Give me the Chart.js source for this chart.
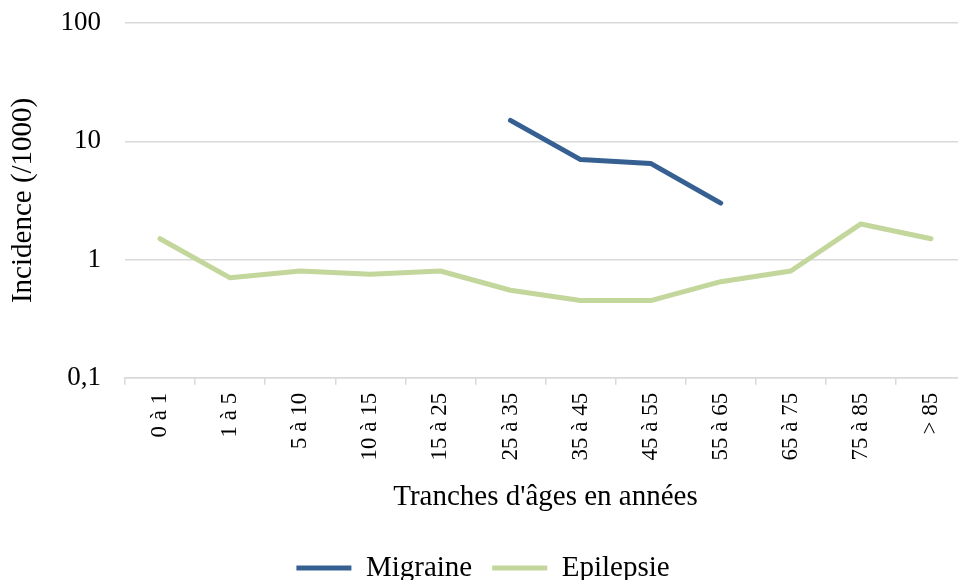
<!DOCTYPE html>
<html>
<head>
<meta charset="utf-8">
<script src="https://cdn.jsdelivr.net/npm/chart.js@4"></script>
<style>
  html, body { margin: 0; padding: 0; background: #ffffff; overflow: hidden; }
  #wrap { width: 966px; height: 580px; position: relative; }
</style>
</head>
<body>
<div id="wrap"><canvas id="c" width="966" height="580"></canvas></div>
<script>
const categories = ["0 à 1", "1 à 5", "5 à 10", "10 à 15", "15 à 25", "25 à 35", "35 à 45", "45 à 55", "55 à 65", "65 à 75", "75 à 85", "> 85"];
const migraine = [null, null, null, null, null, 15, 7, 6.5, 3, null, null, null];
const epilepsie = [1.5, 0.7, 0.8, 0.75, 0.8, 0.55, 0.45, 0.45, 0.65, 0.8, 2, 1.5];
const yTicks = [0.1, 1, 10, 100];
const yTickLabels = ["0,1", "1", "10", "100"];

const serif = "'Liberation Serif', 'Times New Roman', serif";

new Chart(document.getElementById('c'), {
  type: 'line',
  data: {
    labels: categories,
    datasets: [
      { label: 'Migraine', data: migraine, borderColor: '#376092', backgroundColor: '#376092',
        borderWidth: 5, pointRadius: 0, borderCapStyle: 'round', borderJoinStyle: 'round', spanGaps: false, tension: 0 },
      { label: 'Epilepsie', data: epilepsie, borderColor: '#C3D69B', backgroundColor: '#C3D69B',
        borderWidth: 5, pointRadius: 0, borderCapStyle: 'round', borderJoinStyle: 'round', tension: 0 }
    ]
  },
  options: {
    responsive: false,
    animation: false,
    layout: { padding: { top: 23, left: 0, right: 0, bottom: -12.4 } },
    plugins: {
      tooltip: { enabled: false },
      legend: {
        position: 'bottom',
        labels: {
          font: { family: serif, size: 29 },
          color: '#000000',
          boxWidth: 55,
          boxHeight: 5,
          padding: 20,
          generateLabels(chart) {
            return chart.data.datasets.map((ds, i) => ({
              text: ds.label, fillStyle: ds.borderColor, strokeStyle: ds.borderColor,
              lineWidth: 0, hidden: false, datasetIndex: i, fontColor: '#000000'
            }));
          }
        }
      }
    },
    scales: {
      x: {
        offset: true,
        afterFit(scale) { scale.height = 155.6; scale.paddingLeft = 0; scale.paddingRight = 0; },
        grid: { offset: true, drawOnChartArea: false, drawTicks: true, tickLength: 7, color: '#D9D9D9', lineWidth: 1.5 },
        border: { display: true, color: '#D9D9D9', width: 1.5 },
        ticks: { font: { family: serif, size: 23 }, color: '#000000', minRotation: 90, maxRotation: 90, padding: 8, autoSkip: false },
        title: { display: true, text: "Tranches d'âges en années", font: { family: serif, size: 29 }, color: '#000000', padding: { top: 6, bottom: 18.2 } }
      },
      y: {
        type: 'logarithmic',
        min: 0.1,
        max: 100,
        afterBuildTicks(scale) { scale.ticks = yTicks.map(v => ({ value: v })); },
        afterFit(scale) { scale.width = 125; scale.paddingTop = 0; scale.paddingBottom = 0; },
        grid: { drawTicks: false, color: '#D9D9D9', lineWidth: 1.5 },
        border: { display: false },
        ticks: {
          font: { family: serif, size: 27 }, color: '#000000', padding: 24,
          callback(value) { const i = yTicks.indexOf(value); return i >= 0 ? yTickLabels[i] : ''; }
        },
        title: { display: true, text: 'Incidence (/1000)', font: { family: serif, size: 29 }, color: '#000000', padding: { top: 6, bottom: 2 } }
      }
    }
  }
});
</script>
</body>
</html>
